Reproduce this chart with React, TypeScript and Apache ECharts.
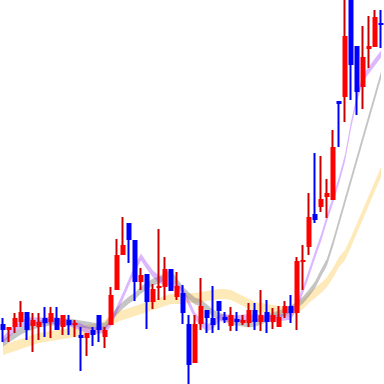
import React, { useEffect, useRef } from "react";
import * as echarts from "echarts";

const categories: string[] = Array.from({ length: 64 }, (_, i) => `D${i + 1}`);

const openValues = [60,54,57,62,72,58,57,66,62,66,57,64,59,49,46,54,69,47,59,94,129,161,144,102,110,82,96,97,115,87,91,60,21,60,74,66,83,67,58,65,61,61,74,62,72,62,57,71,78,71,122,137,170,177,187,184,283,287,390,338,297,335,337,361];
const closeValues = [54,57,66,72,54,64,62,61,71,54,69,59,61,46,51,49,54,54,89,129,139,144,102,109,82,95,98,115,93,98,71,19,60,78,66,59,73,64,69,62,64,74,62,69,62,69,67,78,71,123,124,167,164,185,191,237,280,348,319,292,327,338,367,359];
const lowValues = [42,42,51,57,44,32,44,47,46,54,49,49,47,13,28,38,42,36,59,94,129,121,83,94,55,75,84,84,93,84,60,0,21,54,51,51,54,61,53,53,59,57,54,53,51,55,57,66,61,54,94,129,161,172,166,184,237,262,284,269,275,316,337,336];
const highValues = [66,57,71,83,72,71,71,77,77,77,69,69,64,57,51,57,69,57,97,145,167,161,144,116,110,100,155,127,115,112,99,69,69,106,74,98,83,72,77,72,69,81,81,94,84,76,78,83,89,127,139,191,231,228,205,254,283,390,390,338,358,368,374,374];

const maShort = [44,50,56,60,63,63,63,63,64,63,62,61,59,57,54,53,54,54,61,75,88,102,116,127,118,110,105,102,102,97,92,81,68,61,56,59,66,66,66,65,66,66,66,66,66,65,66,67,68,79,94,111,129,146,166,184,204,226,259,286,306,314,322,330];
const maMid = [41,45,49,53,56,58,60,61,62,62,62,62,61,60,59,58,57,58,66,73,79,84,88,94,98,102,104,108,110,102,94,88,83,81,76,71,68,66,63,62,61,60,61,63,66,68,70,72,75,79,84,91,99,111,122,141,162,183,204,225,246,267,288,309];
const maLong = [34,36,38,40,42,44,46,47,48,49,50,51,52,53,54,55,56,59,64,67,69,71,73,75,77,79,81,83,85,85,85,86,86,87,88,89,90,90,89,86,83,80,77,76,75,74,73,72,73,76,80,86,91,96,102,111,122,129,142,156,170,184,198,212];

function bandSeries(name: string, values: number[], color: string, opacity: number, thickness: number) {
  return {
    name,
    type: "custom",
    silent: true,
    clip: true,
    data: values.map((v, i) => [i, v]),
    encode: { x: 0, y: 1 },
    renderItem: (params: any, api: any) => {
      if (params.dataIndex !== 0) return null;
      const pts = values.map((v, i) => api.coord([i, v]));
      const top = pts.map((p: number[]) => [p[0], p[1] - thickness / 2]);
      const bottom = pts.map((p: number[]) => [p[0], p[1] + thickness / 2]).reverse();
      return {
        type: "polygon",
        shape: { points: top.concat(bottom) },
        style: { fill: color, opacity },
      };
    },
  };
}

export default function App() {
  const ref = useRef<HTMLDivElement>(null);
  useEffect(() => {
    if (!ref.current) return;
    const chart = echarts.init(ref.current, undefined, { renderer: "svg" });
    const candles = openValues.map((o, i) => [o, closeValues[i], lowValues[i], highValues[i]]);
    chart.setOption({
      animation: false,
      grid: { left: 0, right: 0, top: 0, bottom: 0 },
      xAxis: {
        type: "category",
        data: categories,
        boundaryGap: true,
        show: false,
      },
      yAxis: {
        type: "value",
        min: 0,
        max: 384,
        show: false,
        splitLine: { show: false },
      },
      series: [
        {
          name: "wick",
          type: "candlestick",
          data: candles,
          barWidth: 1,
          silent: true,
          itemStyle: {
            color: "#c80000",
            color0: "#0000ff",
            borderColor: "#c80000",
            borderColor0: "#0000ff",
            borderWidth: 2,
          },
        },
        {
          name: "body",
          type: "candlestick",
          data: candles,
          barWidth: 6,
          silent: true,
          itemStyle: {
            color: "#ff0000",
            color0: "#0000ff",
            borderColor: "#ff0000",
            borderColor0: "#0000ff",
            borderWidth: 0,
          },
        },
        bandSeries("MA long", maLong, "#fbbf24", 0.32, 10),
        bandSeries("MA mid", maMid, "#7f7f7f", 0.45, 7),
        bandSeries("MA short", maShort, "#9b30ff", 0.35, 7),
      ],
    });
    return () => chart.dispose();
  }, []);
  return (
    <div
      ref={ref}
      style={{ position: "absolute", left: 0, top: 0, width: 384, height: 384 }}
    />
  );
}
